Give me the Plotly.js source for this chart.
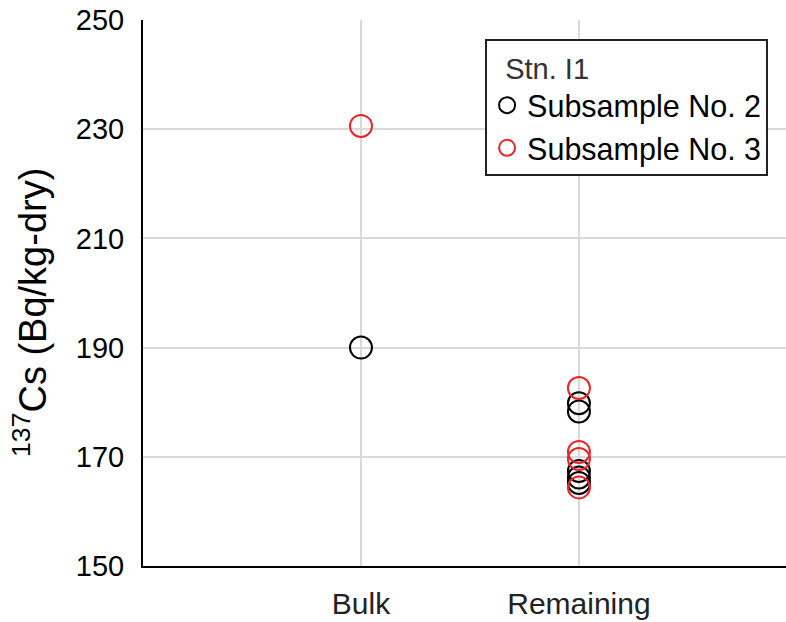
<!DOCTYPE html>
<html>
<head>
<meta charset="utf-8">
<script src="https://cdn.plot.ly/plotly-3.0.1.min.js"></script>
<style>html,body{margin:0;padding:0;background:#fff;}#chart{width:786px;height:622px;}</style>
</head>
<body>
<div id="chart"></div>
<script>
const categories = ["Bulk", "Remaining"];
const sub2X = ["Bulk", "Remaining", "Remaining", "Remaining", "Remaining", "Remaining"];
const sub2Y = [190, 179.8, 178.3, 167.4, 166.2, 165.2];
const sub3X = ["Bulk", "Remaining", "Remaining", "Remaining", "Remaining"];
const sub3Y = [230.6, 182.6, 170.9, 169.6, 164.4];
const yTicks = [150, 170, 190, 210, 230, 250];
const yTitle = "<sup>137</sup>Cs (Bq/kg-dry)";
const legendTitle = "Stn. I1";

const font = "Liberation Sans, Arial, sans-serif";
const traces = [
  {x: sub2X, y: sub2Y, name: "Subsample No. 2", type: "scatter", mode: "markers",
   marker: {symbol: "circle-open", size: 22, color: "#000000", line: {width: 2, color: "#000000"}}},
  {x: sub3X, y: sub3Y, name: "Subsample No. 3", type: "scatter", mode: "markers",
   marker: {symbol: "circle-open", size: 22, color: "#e8262a", line: {width: 2, color: "#e8262a"}}}
];
const layout = {
  width: 786, height: 622,
  margin: {l: 143, r: 0, t: 20, b: 56},
  paper_bgcolor: "#ffffff", plot_bgcolor: "#ffffff",
  font: {family: font, color: "#000000", size: 29},
  showlegend: true,
  legend: {
    x: 0.532, y: 0.965, xanchor: "left", yanchor: "top",
    bgcolor: "#ffffff", bordercolor: "#222222", borderwidth: 2,
    font: {family: font, size: 30.5, color: "#000000"},
    title: {text: "\u00a0\u00a0" + legendTitle, font: {family: font, size: 29, color: "#333333"}},
    itemsizing: "trace", tracegroupgap: 0
  },
  xaxis: {
    type: "category", categoryorder: "array", categoryarray: categories,
    range: [-1, 1.95], showgrid: true, gridcolor: "#d9d9d9", gridwidth: 2,
    showline: true, linecolor: "#000000", linewidth: 2, zeroline: false,
    ticks: "outside", ticklen: 10, tickcolor: "rgba(0,0,0,0)",
    tickfont: {family: font, size: 30, color: "#222222"}, fixedrange: true
  },
  yaxis: {
    range: [150, 250], tickvals: yTicks, ticktext: yTicks.map(String),
    showgrid: true, gridcolor: "#d9d9d9", gridwidth: 2,
    showline: true, linecolor: "#000000", linewidth: 2, zeroline: false,
    ticks: "outside", ticklen: 11, tickcolor: "rgba(0,0,0,0)",
    tickfont: {family: font, size: 29, color: "#000000"}
  },
  annotations: [{
    text: yTitle, textangle: -90, showarrow: false,
    xref: "paper", yref: "paper", x: -0.176, y: 0.465,
    xanchor: "center", yanchor: "middle",
    font: {family: font, size: 38, color: "#000000"}
  }]
};
Plotly.newPlot("chart", traces, layout, {staticPlot: true, displayModeBar: false});
</script>
</body>
</html>
